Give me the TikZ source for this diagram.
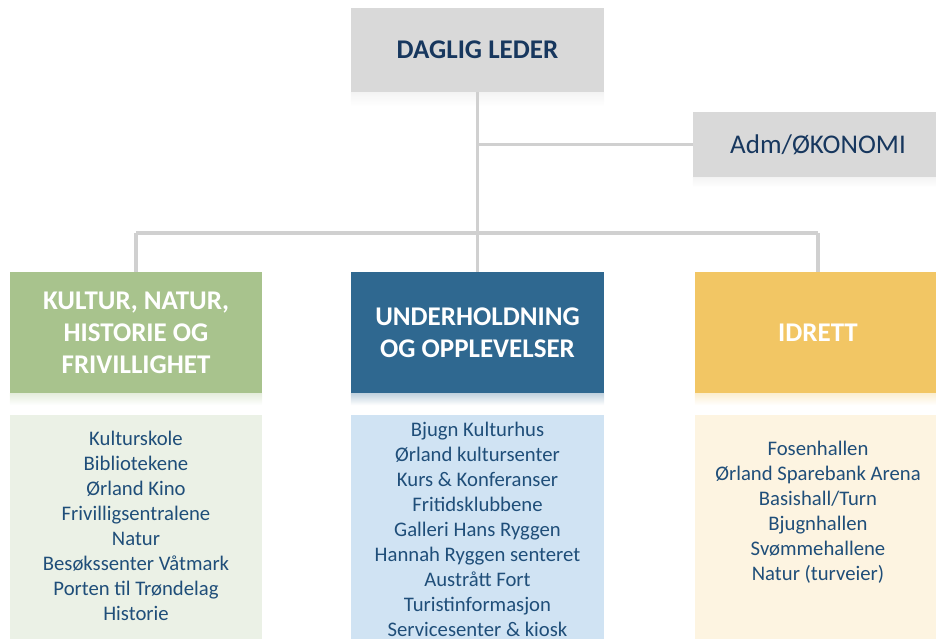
\documentclass[tikz,border=0pt]{standalone}
\usepackage{fontspec}
\setmainfont{Carlito}
\definecolor{boxgray}{HTML}{D9D9D9}
\definecolor{linegray}{HTML}{D0D0D0}
\definecolor{navy}{HTML}{17375E}
\definecolor{listblue}{HTML}{1F4E79}
\definecolor{cgreen}{HTML}{A8C38D}
\definecolor{cblue}{HTML}{2F6890}
\definecolor{cyellow}{HTML}{F2C664}
\definecolor{lgreen}{HTML}{EBF1E6}
\definecolor{lblue}{HTML}{D0E3F3}
\definecolor{lyellow}{HTML}{FDF4E1}
\tikzset{
  topbox/.style={rectangle, fill=boxgray, inner sep=0pt, text=navy},
  headbox/.style={rectangle, inner sep=0pt, text=white, font=\fontsize{27}{32}\selectfont\bfseries, align=center, minimum height=121pt},
  listbox/.style={rectangle, inner sep=0pt, minimum height=240pt},
  listtext/.style={text=listblue, font=\fontsize{20.7}{25}\selectfont, align=center, inner sep=0pt},
  conn/.style={draw=linegray, line width=3.5pt},
  refl/.style={top color=#1!30, bottom color=white, draw=none}
}
\begin{document}
\begin{tikzpicture}[x=1pt,y=-1pt]
\useasboundingbox (0,0) rectangle (936,638);
\clip (0,0) rectangle (936,638);
\node[topbox, minimum width=253pt, minimum height=84pt, font=\fontsize{27}{32}\selectfont\bfseries] (lead) at (477.5,50) {DAGLIG LEDER};
\node[topbox, minimum width=250pt, minimum height=65pt, font=\fontsize{27}{32}\selectfont] (adm) at (818,144.5) {Adm/ØKONOMI};
\coordinate (bus) at (477.5,233);
\node[headbox, fill=cgreen, minimum width=252pt] (kultur) at (136,332.5) {KULTUR, NATUR,\\HISTORIE OG\\FRIVILLIGHET};
\node[headbox, fill=cblue, minimum width=253pt] (under) at (477.5,332.5) {UNDERHOLDNING\\OG OPPLEVELSER};
\node[headbox, fill=cyellow, minimum width=246pt] (idrett) at (818,332.5) {IDRETT};
\shade[refl=boxgray] (lead.south west) rectangle ([yshift=-14pt]lead.south east);
\shade[refl=boxgray] (adm.south west) rectangle ([yshift=-10pt]adm.south east);
\shade[refl=cgreen] (kultur.south west) rectangle ([yshift=-12pt]kultur.south east);
\shade[refl=cblue] (under.south west) rectangle ([yshift=-12pt]under.south east);
\shade[refl=cyellow] (idrett.south west) rectangle ([yshift=-12pt]idrett.south east);
\node[listbox, fill=lgreen, minimum width=252pt, anchor=north] (kl) at (136,415) {};
\node[listbox, fill=lblue, minimum width=253pt, anchor=north] (ul) at (477.5,415) {};
\node[listbox, fill=lyellow, minimum width=246pt, anchor=north] (il) at (818,415) {};
\node[listtext] (klt) at (136,526) {Kulturskole\\Bibliotekene\\Ørland Kino\\Frivilligsentralene\\Natur\\Besøkssenter Våtmark\\Porten til Trøndelag\\Historie};
\node[listtext] (ult) at (477.5,529) {Bjugn Kulturhus\\Ørland kultursenter\\Kurs \& Konferanser\\Fritidsklubbene\\Galleri Hans Ryggen\\Hannah Ryggen senteret\\Austrått Fort\\Turistinformasjon\\Servicesenter \& kiosk};
\node[listtext] (ilt) at (818,512.5) {Fosenhallen\\Ørland Sparebank Arena\\Basishall/Turn\\Bjugnhallen\\Svømmehallene\\Natur (turveier)};
\draw[conn] (lead.south) -- (lead.south |- bus);
\draw[conn] (lead.south |- adm.west) -- (adm.west);
\draw[conn] (kultur.north |- bus) -- (idrett.north |- bus);
\draw[conn] (kultur.north |- bus) -- (kultur.north);
\draw[conn] (under.north |- bus) -- (under.north);
\draw[conn] (idrett.north |- bus) -- (idrett.north);
\end{tikzpicture}
\end{document}
